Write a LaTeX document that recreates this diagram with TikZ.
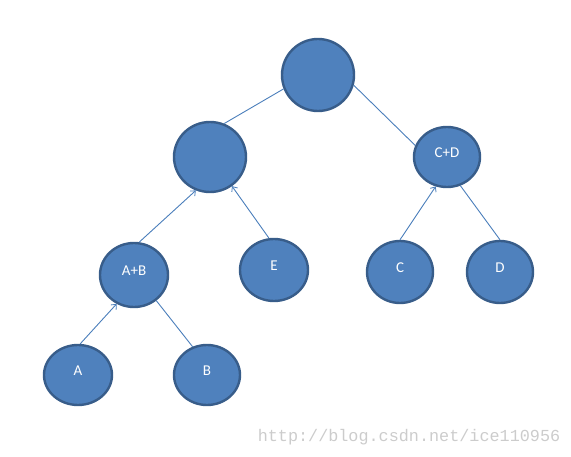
\documentclass[tikz,border=0pt]{standalone}
\usepackage{fontspec}
\setmainfont{Carlito}
\newfontfamily\urlfont{Liberation Mono}
\usetikzlibrary{shapes.geometric, arrows.meta}

\definecolor{nodefill}{HTML}{4F81BD}
\definecolor{nodeline}{HTML}{385D8A}
\definecolor{edgeline}{HTML}{4A7EBB}

\tikzset{
    treenode/.style={ellipse, fill=nodefill, draw=nodeline, line width=2.4pt,
        inner sep=0pt, text=white, text depth=9pt, font=\fontsize{15}{17}\selectfont},
    treeedge/.style={draw=edgeline, line width=0.9pt},
    treearrow/.style={treeedge, -{Straight Barb[length=4pt, width=7pt, line width=0.8pt]}}
}

\begin{document}
\begin{tikzpicture}[x=1pt, y=-1pt]
    \useasboundingbox (0,0) rectangle (571,457);

    % --- 1. 根節點與第二層 ---
    \node[treenode, minimum width=72pt, minimum height=72pt] (root) at (318,75) {};
    \node[treenode, minimum width=72pt, minimum height=70pt] (sum) at (210,157) {};
    \node[treenode, minimum width=66pt, minimum height=60pt] (cd) at (447,157) {C+D};

    % --- 2. 第三層 ---
    \node[treenode, minimum width=68pt, minimum height=64pt] (ab) at (134,275) {A+B};
    \node[treenode, minimum width=68pt, minimum height=62pt] (e) at (274,270) {E};
    \node[treenode, minimum width=66pt, minimum height=62pt] (c) at (400,272) {C};
    \node[treenode, minimum width=66pt, minimum height=62pt] (d) at (500,272) {D};

    % --- 3. 葉節點 A, B ---
    \node[treenode, minimum width=68pt, minimum height=60pt] (a) at (78,375) {A};
    \node[treenode, minimum width=66pt, minimum height=60pt] (b) at (207,375) {B};

    % --- 4. 連線 ---
    \draw[treeedge] (sum.67) -- (root.202);
    \draw[treeedge] (root.344) -- (cd.160);
    \draw[treearrow] (ab.81) -- (sum.247);
    \draw[treearrow] (e.99) -- (sum.307);
    \draw[treearrow] (c.90) -- (cd.249);
    \draw[treeedge] (d.90) -- (cd.295);
    \draw[treearrow] (a.86) -- (ab.239);
    \draw[treeedge] (b.117) -- (ab.311);

    % --- 5. 浮水印 ---
    \node[text=black!20, font=\urlfont\fontsize{16.8}{18}\selectfont] (mark) at (409,437) {http://blog.csdn.net/ice110956};
\end{tikzpicture}
\end{document}
